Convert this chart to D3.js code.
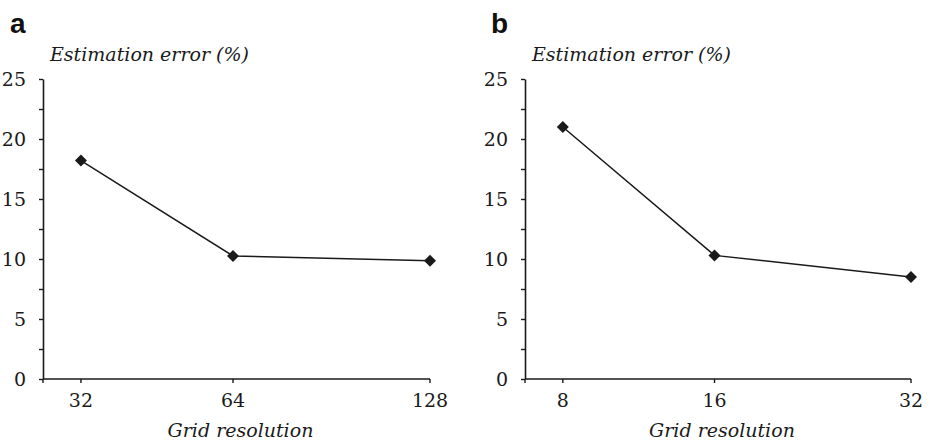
<!DOCTYPE html>
<html>
<head>
<meta charset="utf-8">
<script src="https://cdn.jsdelivr.net/npm/d3@7"></script>
<style>
  body { margin: 0; background: #fff; }
  svg { display: block; }
  .serif { font-family: "DejaVu Serif", "Liberation Serif", serif; }
  .sans { font-family: "Liberation Sans", Arial, Helvetica, sans-serif; }
</style>
</head>
<body>
<div id="chart"></div>
<script>
// Estimation error vs grid resolution - two panels

// Data
const panelLetters = ["a", "b"];
const resolutionsA = ["32", "64", "128"];
const errorsA = [18.2, 10.25, 9.85];
const resolutionsB = ["8", "16", "32"];
const errorsB = [21.0, 10.3, 8.5];
const yTickValues = [0, 2.5, 5, 7.5, 10, 12.5, 15, 17.5, 20, 22.5, 25];
const yTitle = "Estimation error (%)";
const xTitle = "Grid resolution";

// Layout
const W = 930, H = 443;
const ink = "#1a1a1a";
// position of each category along the x axis, as fraction of axis length
const catFrac = [0.098, 0.491, 1];
const plotTop = 79, plotBottom = 379;

const svg = d3.select("#chart")
  .append("svg")
  .attr("width", W)
  .attr("height", H);

const panels = [
  { letter: panelLetters[0], cats: resolutionsA, values: errorsA, left: 43, right: 430, letterX: 10 },
  { letter: panelLetters[1], cats: resolutionsB, values: errorsB, left: 525, right: 911, letterX: 491 }
];

panels.forEach(drawPanel);

function drawPanel(p) {
  const g = svg.append("g");
  const w = p.right - p.left;

  const x = d3.scaleLinear()
    .domain(d3.range(p.cats.length))
    .range(catFrac.map(f => p.left + f * w));

  const y = d3.scaleLinear().domain([0, 25]).range([plotBottom, plotTop]);

  // Y axis
  const yAxis = g.append("g")
    .attr("transform", `translate(${p.left},0)`)
    .call(d3.axisLeft(y)
      .tickValues(yTickValues)
      .tickSize(4)
      .tickSizeOuter(0)
      .tickPadding(13)
      .tickFormat(d => d % 5 === 0 ? d : ""));
  styleAxis(yAxis);

  // X axis (line from the origin, ticks at each category)
  const xAxis = g.append("g")
    .attr("transform", `translate(0,${plotBottom})`);
  xAxis.append("line")
    .attr("x1", p.left).attr("x2", p.right)
    .attr("stroke", ink).attr("stroke-width", 1.6);
  xAxis.append("line")
    .attr("x1", p.left).attr("x2", p.left)
    .attr("y1", 0).attr("y2", 4)
    .attr("stroke", ink).attr("stroke-width", 1.4);
  const xt = xAxis.selectAll(".xtick")
    .data(p.cats)
    .join("g")
    .attr("class", "xtick")
    .attr("transform", (d, i) => `translate(${x(i)},0)`);
  xt.append("line")
    .attr("y2", 4)
    .attr("stroke", ink).attr("stroke-width", 1.4);
  xt.append("text")
    .attr("class", "serif")
    .attr("y", 28)
    .attr("text-anchor", "middle")
    .attr("font-size", 19)
    .attr("fill", ink)
    .text(d => d);

  // Series line
  const line = d3.line()
    .x((d, i) => x(i))
    .y(d => y(d));

  g.append("path")
    .datum(p.values)
    .attr("fill", "none")
    .attr("stroke", ink)
    .attr("stroke-width", 1.5)
    .attr("d", line);

  // Diamond markers
  g.selectAll(".marker")
    .data(p.values)
    .join("path")
    .attr("class", "marker")
    .attr("d", d3.symbol().type(d3.symbolSquare).size(72))
    .attr("transform", (d, i) => `translate(${x(i)},${y(d)}) rotate(45)`)
    .attr("fill", ink);

  // Axis titles
  g.append("text")
    .attr("class", "serif")
    .attr("x", p.left + 7)
    .attr("y", 61)
    .attr("font-style", "italic")
    .attr("font-size", 19)
    .attr("fill", ink)
    .text(yTitle);

  g.append("text")
    .attr("class", "serif")
    .attr("x", (p.left + p.right) / 2 + 4)
    .attr("y", 437)
    .attr("text-anchor", "middle")
    .attr("font-style", "italic")
    .attr("font-size", 19)
    .attr("fill", ink)
    .text(xTitle);

  // Panel letter
  g.append("text")
    .attr("class", "sans")
    .attr("x", p.letterX)
    .attr("y", 33)
    .attr("font-weight", "bold")
    .attr("font-size", 28)
    .attr("fill", "#111")
    .text(p.letter);
}

function styleAxis(sel) {
  sel.attr("font-family", null).attr("font-size", null);
  sel.select(".domain").attr("stroke", ink).attr("stroke-width", 1.6);
  sel.selectAll(".tick line").attr("stroke", ink).attr("stroke-width", 1.4);
  sel.selectAll(".tick text")
    .attr("class", "serif")
    .attr("font-size", 19)
    .attr("fill", ink);
}
</script>
</body>
</html>
